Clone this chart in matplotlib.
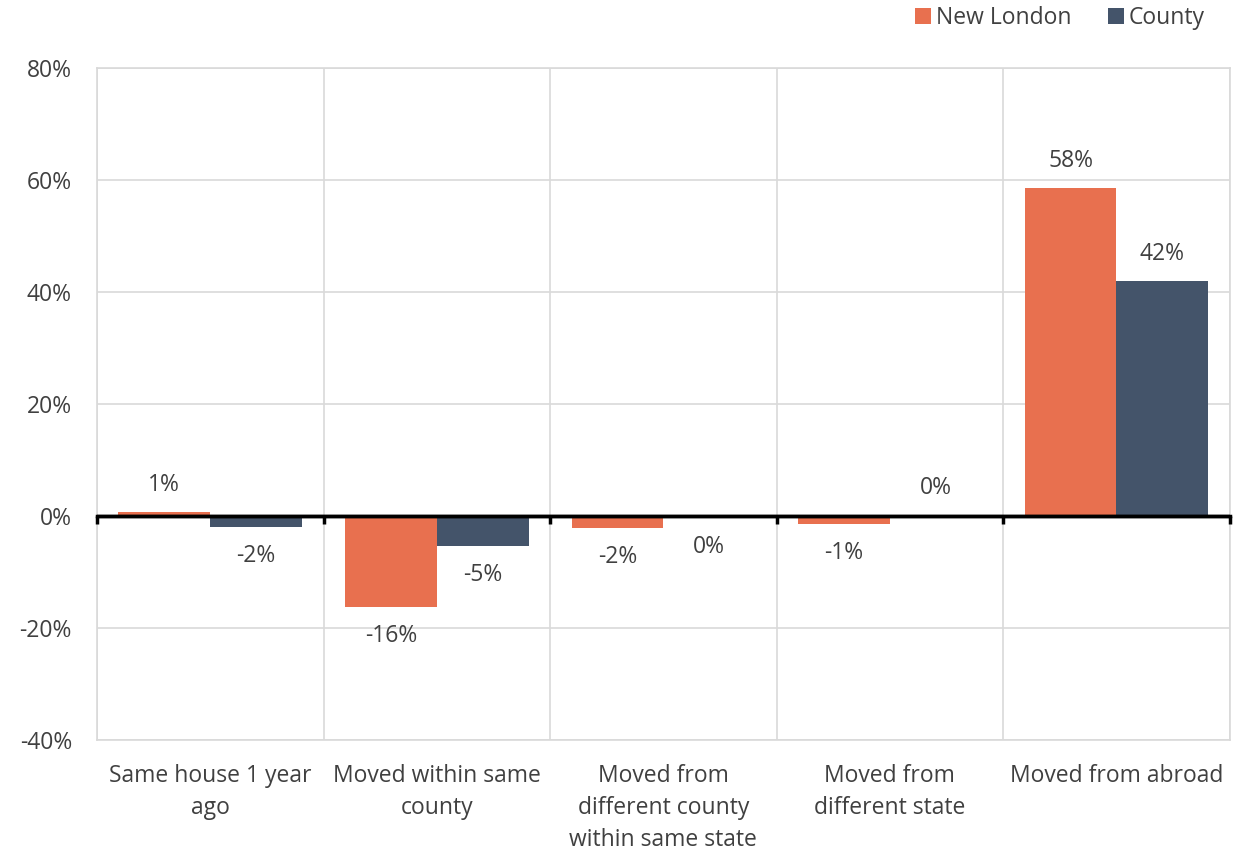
import matplotlib.pyplot as plt
import numpy as np

categories = ["Same house 1 year\nago", "Moved within same\ncounty",
              "Moved from\ndifferent county\nwithin same state",
              "Moved from\ndifferent state", "Moved from abroad"]
new_london = [0.8, -16.2, -2.2, -1.5, 58.6]
county = [-2.0, -5.3, -0.4, 0.1, 42.0]
nl_labels = ["1%", "-16%", "-2%", "-1%", "58%"]
county_labels = ["-2%", "-5%", "0%", "0%", "42%"]
yticks = [-40, -20, 0, 20, 40, 60, 80]

orange = "#E8704F"
navy = "#44546A"
grid = "#D9D9D9"
text = "#404040"
fs = 16.5

plt.rcParams['font.family'] = ['Open Sans', 'DejaVu Sans']

fig = plt.figure(figsize=(12.51, 8.52), dpi=100)
ax = fig.add_axes([0.0775, 0.1315, 0.9055, 0.7885])

x = np.arange(len(categories))
w = 0.405
b1 = ax.bar(x - w / 2, new_london, w, color=orange, label="New London", zorder=2)
b2 = ax.bar(x + w / 2, county, w, color=navy, label="County", zorder=2)

# value labels outside bar ends (offsets in pixels -> points)
px = 72 / fig.dpi
def label(bars, vals, texts):
	for bar, v, t in zip(bars, vals, texts):
		cx = bar.get_x() + bar.get_width() / 2
		off = 27 if v >= 0 else -29
		ax.annotate(t, (cx, v), xytext=(0, off * px), textcoords="offset points",
			ha="center", va="center", fontsize=fs, color=text)

label(b1, new_london, nl_labels)
label(b2, county, county_labels)

ax.set_xlim(-0.5, len(categories) - 0.5)
ax.set_ylim(-40, 80)
ax.set_yticks(yticks)
ax.set_yticklabels([f"{t}%" for t in yticks])
ax.set_xticks(x)
ax.set_xticklabels(categories, linespacing=1.45)
ax.tick_params(axis="both", length=0, labelsize=fs, labelcolor=text)
ax.tick_params(axis="x", pad=17)
ax.tick_params(axis="y", pad=18)

# grid lines: horizontal at ticks and vertical at category boundaries
ax.set_axisbelow(True)
ax.yaxis.grid(True, color=grid, lw=1.2)
bounds = np.arange(len(categories) + 1) - 0.5
for bx in bounds:
	ax.axvline(bx, color=grid, lw=1.2, zorder=0)
for s in ax.spines.values():
	s.set_color(grid)
	s.set_linewidth(1.2)

# black zero axis with downward tick marks at boundaries
ax.axhline(0, color="black", lw=2.5, zorder=4)
zero_pos = (0 - ax.get_ylim()[0]) / (ax.get_ylim()[1] - ax.get_ylim()[0])
sec = ax.secondary_xaxis(zero_pos)
sec.set_zorder(5)
sec.set_xticks(bounds)
sec.tick_params(direction="out", length=6, width=2.5, color="black", labelbottom=False)
sec.spines["bottom"].set_color("black")
sec.spines["bottom"].set_linewidth(2.5)

fig.legend(handles=[b1, b2], loc="center right", bbox_to_anchor=(0.97, 0.979),
	ncol=2, frameon=False, fontsize=fs, labelcolor=text, handlelength=0.7,
	handleheight=0.7, handletextpad=0.2, columnspacing=1.6, borderaxespad=0)

plt.savefig("out.png")
